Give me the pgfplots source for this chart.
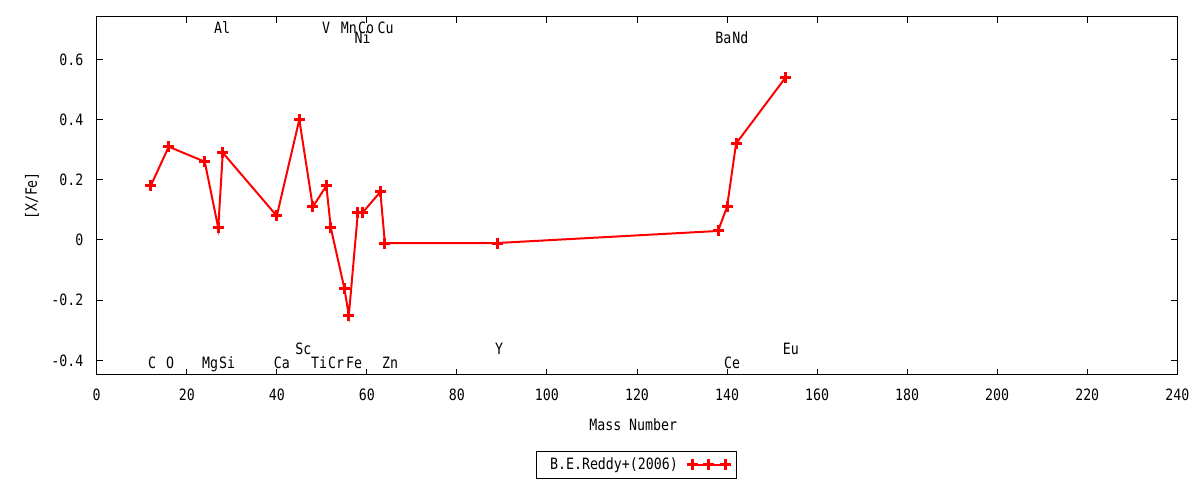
\documentclass[border=0pt]{standalone}
\usepackage{fontspec}
\setmainfont{DejaVu Sans Mono}[FakeStretch=0.85]
\usepackage{pgfplots}
\usepackage{pgfplotstable}
\pgfplotsset{compat=1.18}

% [X/Fe] against mass number
\pgfplotstableread{
mass xfe
12  0.18
16  0.31
24  0.26
27  0.04
28  0.29
40  0.08
45  0.40
48  0.11
51  0.18
52  0.04
55  -0.16
56  -0.25
58  0.09
59  0.09
63  0.16
64  -0.01
89  -0.01
138 0.03
140 0.11
142 0.32
153 0.54
}\reddy

% element names, where they stand
\pgfplotstableread{
x      y       name
27.84  0.706   Al
50.96  0.706   V
56.0   0.706   Mn
59.84  0.706   Co
64.18  0.706   Cu
59.07  0.671   Ni
139.18 0.671   Ba
142.96 0.671   Nd
12.29  -0.4096 C
16.29  -0.4096 O
25.18  -0.4096 Mg
28.96  -0.4096 Si
41.13  -0.4096 Ca
45.91  -0.362  Sc
49.4   -0.4096 Ti
53.18  -0.4096 Cr
57.18  -0.4096 Fe
65.18  -0.4096 Zn
89.4   -0.362  Y
141.13 -0.4096 Ce
154.18 -0.362  Eu
}\elements

\begin{document}
\fontsize{7.8}{9}\selectfont
\begin{tikzpicture}
\useasboundingbox (0,0) rectangle (600pt,240pt);
\begin{axis}[
    at={(48.35pt,52.5pt)}, anchor=south west,
    scale only axis, width=540.3pt, height=179pt,
    xmin=0, xmax=240, ymin=-0.4485, ymax=0.7409,
    xtick={0,20,40,60,80,100,120,140,160,180,200,220,240},
    xticklabels={0,20,40,60,80,100,120,140,160,180,200,220,240},
    ytick={-0.4,-0.2,0,0.2,0.4,0.6},
    yticklabels={-0.4,-0.2,0,0.2,0.4,0.6},
    tick align=inside, tick pos=both, major tick length=3pt,
    axis line style={line width=0.5pt},
    tick style={line width=0.5pt, black},
    xticklabel style={anchor=base, inner sep=0pt, yshift=-12.85pt},
    yticklabel style={anchor=east, inner sep=0pt, xshift=-6.5pt},
    xlabel={Mass Number},
    xlabel style={at={(axis description cs:0.4965,0)}, anchor=base, inner sep=0pt, yshift=-27.85pt},
    ylabel={[X/Fe]},
    ylabel style={at={(axis description cs:-0.0600,0.5)}, anchor=center, inner sep=0pt},
    legend plot pos=right,
    legend style={at={(axis description cs:0.4995,-0.2514)}, anchor=center,
        draw=black, line width=0.5pt, inner xsep=3pt, inner ysep=1pt,
        font=\fontsize{7.8}{9}\selectfont},
    legend image code/.code={
        \draw[mark repeat=1, mark phase=1, #1] plot coordinates {(0pt,0pt) (8.25pt,0pt) (16.5pt,0pt)};
    },
]
\addplot[red, line width=1pt, mark=+, mark size=2.75pt,
    mark options={line width=1.5pt}] table[x=mass, y=xfe] {\reddy};
\addlegendentry{\kern2pt B.E.Reddy+(2006)\kern2.5pt\null}

\addplot[forget plot, only marks, mark=none, nodes near coords,
    point meta=explicit symbolic,
    nodes near coords style={anchor=center, inner sep=0pt, black,
        text height=5.7pt, text depth=0pt}]
    table[x=x, y=y, meta=name] {\elements};
\end{axis}
\end{tikzpicture}
\end{document}
